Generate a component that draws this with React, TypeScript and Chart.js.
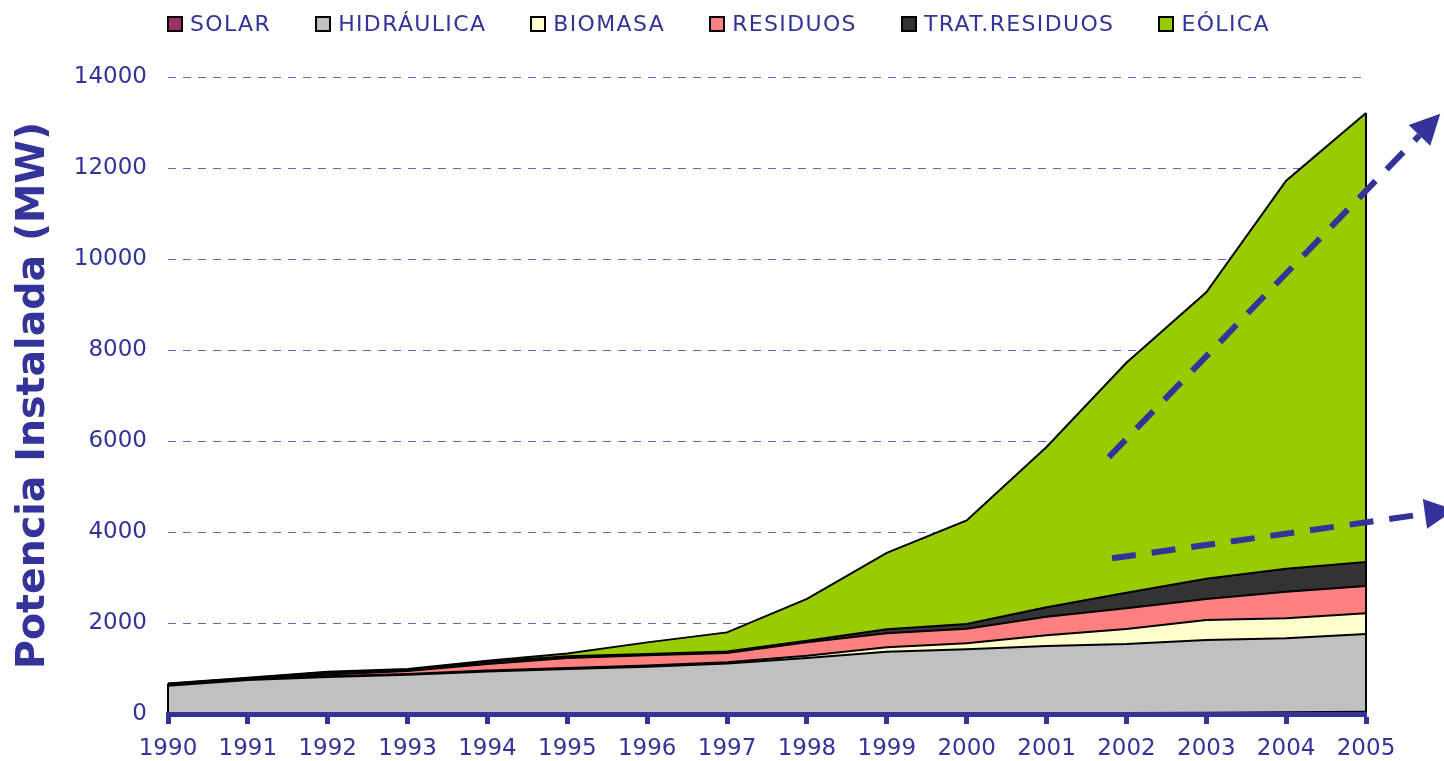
import React, { useEffect, useRef } from 'react';
import { Chart, registerables } from 'chart.js';

Chart.register(...registerables);

const years = ['1990', '1991', '1992', '1993', '1994', '1995', '1996', '1997', '1998', '1999', '2000', '2001', '2002', '2003', '2004', '2005'];
const solar = [3, 3, 4, 5, 6, 7, 8, 9, 9, 10, 12, 15, 20, 27, 37, 47];
const hidraulica = [620, 742, 811, 857, 930, 981, 1031, 1103, 1221, 1360, 1409, 1479, 1518, 1599, 1626, 1711];
const biomasa = [10, 10, 15, 18, 19, 22, 26, 28, 50, 95, 132, 235, 330, 440, 440, 455];
const residuos = [15, 15, 40, 65, 145, 220, 225, 200, 294, 308, 322, 410, 454, 461, 586, 600];
const tratResiduos = [15, 15, 45, 30, 50, 40, 30, 36, 37, 88, 103, 205, 345, 447, 505, 527];
const eolica = [7, 10, 13, 13, 20, 62, 254, 418, 917, 1679, 2277, 3524, 5053, 6296, 8526, 9870];

const seriesNames = ['SOLAR', 'HIDRÁULICA', 'BIOMASA', 'RESIDUOS', 'TRAT.RESIDUOS', 'EÓLICA'];
const seriesColors = ['#993366', '#C0C0C0', '#FFFFCC', '#FF8080', '#333333', '#99CC00'];
const allSeries = [solar, hidraulica, biomasa, residuos, tratResiduos, eolica];

const yTickValues = [0, 2000, 4000, 6000, 8000, 10000, 12000, 14000];
const yTitle = 'Potencia Instalada (MW)';

// trend arrows in data units: [category index, MW]
const arrowFrom1 = [11.78, 5645];
const arrowTo1 = [15.93, 13190];
const arrowFrom2 = [11.82, 3422];
const arrowTo2 = [16.11, 4489];
const trendArrows = [
  { from: arrowFrom1, to: arrowTo1 },
  { from: arrowFrom2, to: arrowTo2 },
];

const TEXT_COLOR = '#333399';
const FONT = '"DejaVu Sans", Verdana, sans-serif';

const edgePlugin = {
  id: 'areaEdges',
  afterDatasetsDraw(chart: any) {
    const { ctx, scales } = chart;
    const x = scales.x;
    const y = scales.y;
    const totals = years.map((_, i) => allSeries.reduce((s, a) => s + a[i], 0));
    ctx.save();
    ctx.strokeStyle = '#000';
    ctx.lineWidth = 2;
    [0, years.length - 1].forEach((i) => {
      const px = x.getPixelForValue(i);
      ctx.beginPath();
      ctx.moveTo(px, y.getPixelForValue(0));
      ctx.lineTo(px, y.getPixelForValue(totals[i]));
      ctx.stroke();
    });
    ctx.restore();
  },
};

const arrowPlugin = {
  id: 'trendArrows',
  afterDraw(chart: any) {
    const { ctx, scales } = chart;
    const x = scales.x;
    const y = scales.y;
    ctx.save();
    trendArrows.forEach((a) => {
      const x0 = x.getPixelForValue(a.from[0]);
      const y0 = y.getPixelForValue(a.from[1]);
      const x1 = x.getPixelForValue(a.to[0]);
      const y1 = y.getPixelForValue(a.to[1]);
      const ang = Math.atan2(y1 - y0, x1 - x0);
      const headLen = 30;
      const headHalf = 15;
      const bx = x1 - headLen * Math.cos(ang);
      const by = y1 - headLen * Math.sin(ang);
      ctx.strokeStyle = TEXT_COLOR;
      ctx.fillStyle = TEXT_COLOR;
      ctx.lineWidth = 6;
      ctx.lineCap = 'butt';
      ctx.setLineDash([24, 16]);
      ctx.beginPath();
      ctx.moveTo(x0, y0);
      ctx.lineTo(bx, by);
      ctx.stroke();
      ctx.setLineDash([]);
      ctx.beginPath();
      ctx.moveTo(x1, y1);
      ctx.lineTo(bx + headHalf * Math.sin(ang), by - headHalf * Math.cos(ang));
      ctx.lineTo(bx - headHalf * Math.sin(ang), by + headHalf * Math.cos(ang));
      ctx.closePath();
      ctx.fill();
    });
    ctx.restore();
  },
};

export default function App() {
  const canvasRef = useRef<HTMLCanvasElement | null>(null);

  useEffect(() => {
    if (!canvasRef.current) return;
    const chart = new Chart(canvasRef.current, {
      type: 'line',
      data: {
        labels: years,
        datasets: allSeries.map((data, i) => ({
          label: seriesNames[i],
          data,
          backgroundColor: seriesColors[i],
          borderColor: '#000000',
          borderWidth: 2,
          pointRadius: 0,
          pointHoverRadius: 0,
          tension: 0,
          fill: i === 0 ? 'origin' : '-1',
        })),
      },
      options: {
        animation: false,
        responsive: true,
        maintainAspectRatio: false,
        events: [],
        layout: { padding: { left: 0, right: 78, top: 77, bottom: 0 } },
        plugins: {
          legend: { display: false },
          tooltip: { enabled: false },
        },
        scales: {
          x: {
            type: 'category',
            offset: false,
            grid: {
              z: 1,
              drawOnChartArea: false,
              drawTicks: true,
              tickLength: 10,
              tickWidth: 5,
              tickColor: TEXT_COLOR,
            },
            border: { display: true, color: TEXT_COLOR, width: 5, z: 1 },
            ticks: {
              z: 1,
              color: TEXT_COLOR,
              font: { family: FONT, size: 23 },
              padding: 11,
              maxRotation: 0,
              autoSkip: false,
            },
            afterFit: (s: any) => {
              s.height = 47;
            },
          },
          y: {
            stacked: true,
            min: 0,
            max: 14000,
            afterBuildTicks: (s: any) => {
              s.ticks = yTickValues.map((v) => ({ value: v }));
            },
            ticks: {
              color: TEXT_COLOR,
              font: { family: FONT, size: 23 },
              padding: 21,
              callback: (v: any) => String(v),
            },
            grid: { color: '#6666bb', lineWidth: 1, drawTicks: false },
            border: { display: false, dash: [8, 7] },
            title: {
              display: true,
              text: yTitle,
              color: TEXT_COLOR,
              font: { family: FONT, size: 39.5, weight: 'bold' },
              padding: { top: 10, bottom: 0 },
            },
            afterFit: (s: any) => {
              s.width = 168;
            },
          },
        },
      },
      plugins: [edgePlugin, arrowPlugin],
    } as any);
    return () => chart.destroy();
  }, []);

  return (
    <div style={{ position: 'fixed', left: 0, top: 0, width: 1444, height: 761, background: '#fff' }}>
      <canvas ref={canvasRef} />
      <div
        style={{
          position: 'absolute',
          left: 167,
          top: 11,
          display: 'flex',
          alignItems: 'center',
          gap: 44,
          fontFamily: FONT,
          fontSize: 22,
          color: TEXT_COLOR,
          letterSpacing: '1.35px',
          whiteSpace: 'nowrap',
        }}
      >
        {seriesNames.map((n, i) => (
          <div key={n} style={{ display: 'flex', alignItems: 'center' }}>
            <span
              style={{
                display: 'inline-block',
                width: 16,
                height: 16,
                boxSizing: 'border-box',
                border: '2px solid #000',
                background: seriesColors[i],
                marginRight: 7,
              }}
            />
            <span>{n}</span>
          </div>
        ))}
      </div>
    </div>
  );
}
